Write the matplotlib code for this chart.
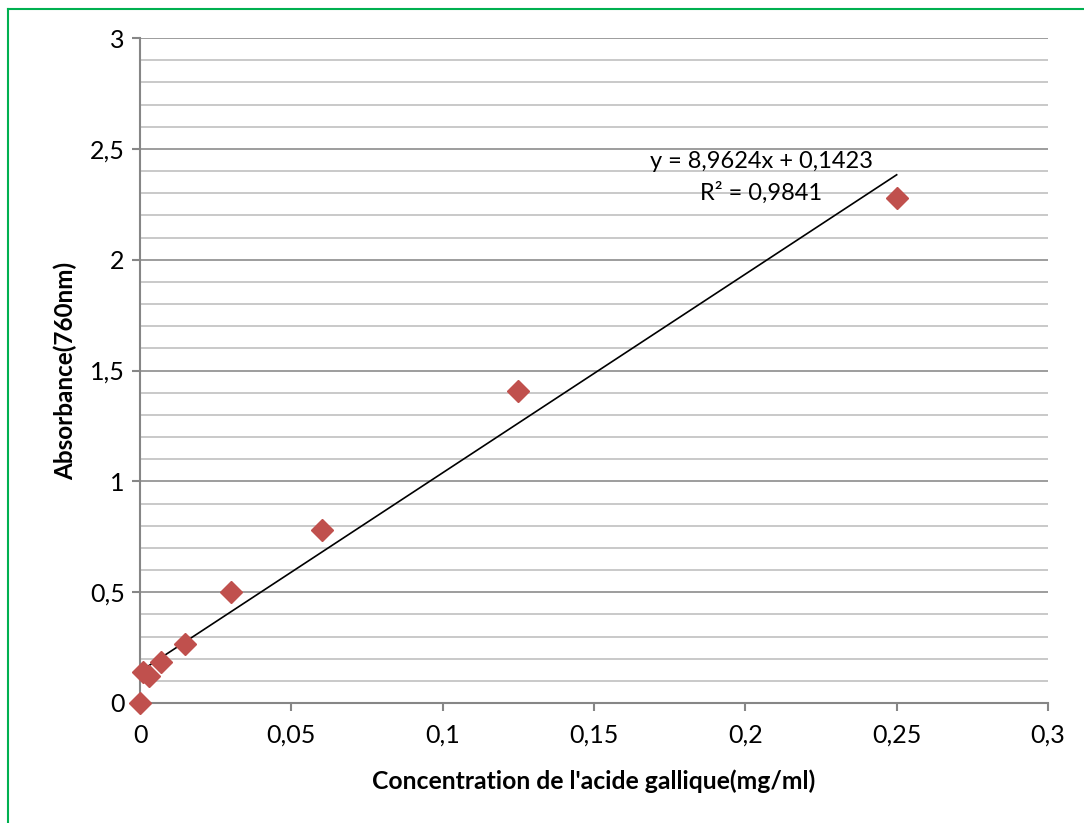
import matplotlib
matplotlib.use("Agg")
import matplotlib.pyplot as plt
from matplotlib.lines import Line2D
import numpy as np

# Data
concentration = [0.0, 0.001, 0.003, 0.007, 0.015, 0.03, 0.06, 0.125, 0.25]
absorbance = [0.0, 0.142, 0.120, 0.183, 0.264, 0.500, 0.780, 1.408, 2.280]
slope = 8.9624
intercept = 0.1423
r2 = 0.9841
fit_x = [0.0, 0.25]

x_ticks = [0, 0.05, 0.1, 0.15, 0.2, 0.25, 0.3]
x_labels = ["0", "0,05", "0,1", "0,15", "0,2", "0,25", "0,3"]
y_ticks = [0, 0.5, 1, 1.5, 2, 2.5, 3]
y_labels = ["0", "0,5", "1", "1,5", "2", "2,5", "3"]

plt.rcParams['font.family'] = ['Lato', 'DejaVu Sans']

W, H = 1084, 823
fig = plt.figure(figsize=(W / 100, H / 100), dpi=100)
ax = fig.add_axes([140 / W, 1 - 703 / H, (1048 - 140) / W, (703 - 38) / H])

# green frame (only left/top visible)
fig.add_artist(Line2D([7.5 / W, 7.5 / W], [0, 1 - 8.5 / H], transform=fig.transFigure,
                      color='#00B050', lw=1.5))
fig.add_artist(Line2D([7.5 / W, 1], [1 - 8.5 / H, 1 - 8.5 / H], transform=fig.transFigure,
                      color='#00B050', lw=1.5))

ax.set_xlim(0, 0.3)
ax.set_ylim(0, 3)

# gridlines
minor = np.arange(0.1, 3.0, 0.1)
for v in minor:
    if abs(v / 0.5 - round(v / 0.5)) > 1e-6:
        ax.axhline(v, color='#C0C0C0', lw=1.2, zorder=1)
for v in y_ticks[1:]:
    ax.axhline(v, color='#8C8C8C', lw=1.2, zorder=1)

for s in ['top', 'right']:
    ax.spines[s].set_visible(False)
for s in ['left', 'bottom']:
    ax.spines[s].set_color('#868686')
    ax.spines[s].set_linewidth(1.5)

ax.set_xticks(x_ticks)
ax.set_xticklabels(x_labels)
ax.set_yticks(y_ticks)
ax.set_yticklabels(y_labels)
ax.tick_params(axis='both', direction='out', length=6, width=1.5, color='#868686',
               labelsize=18, labelcolor='black')
ax.tick_params(axis='x', pad=9)
ax.tick_params(axis='y', pad=5)

fx = np.array(fit_x)
ax.plot(fx, slope * fx + intercept, color='black', lw=1.2, zorder=3)
ax.plot(concentration, absorbance, linestyle='none', marker='D', markersize=11.5,
        color='#C0504D', markeredgecolor='#C0504D', zorder=4, clip_on=False)

ax.text(0.2053, 2.445, "y = 8,9624x + 0,1423", fontsize=17, ha='center', va='center')
ax.text(0.2053, 2.30, "R² = 0,9841", fontsize=17, ha='center', va='center')

ax.set_xlabel("Concentration de l'acide gallique(mg/ml)", fontsize=17.8, fontweight='bold', labelpad=16)
ax.set_ylabel("Absorbance(760nm)", fontsize=17.5, fontweight='bold', labelpad=9)

fig.savefig("out.png", dpi=100)
